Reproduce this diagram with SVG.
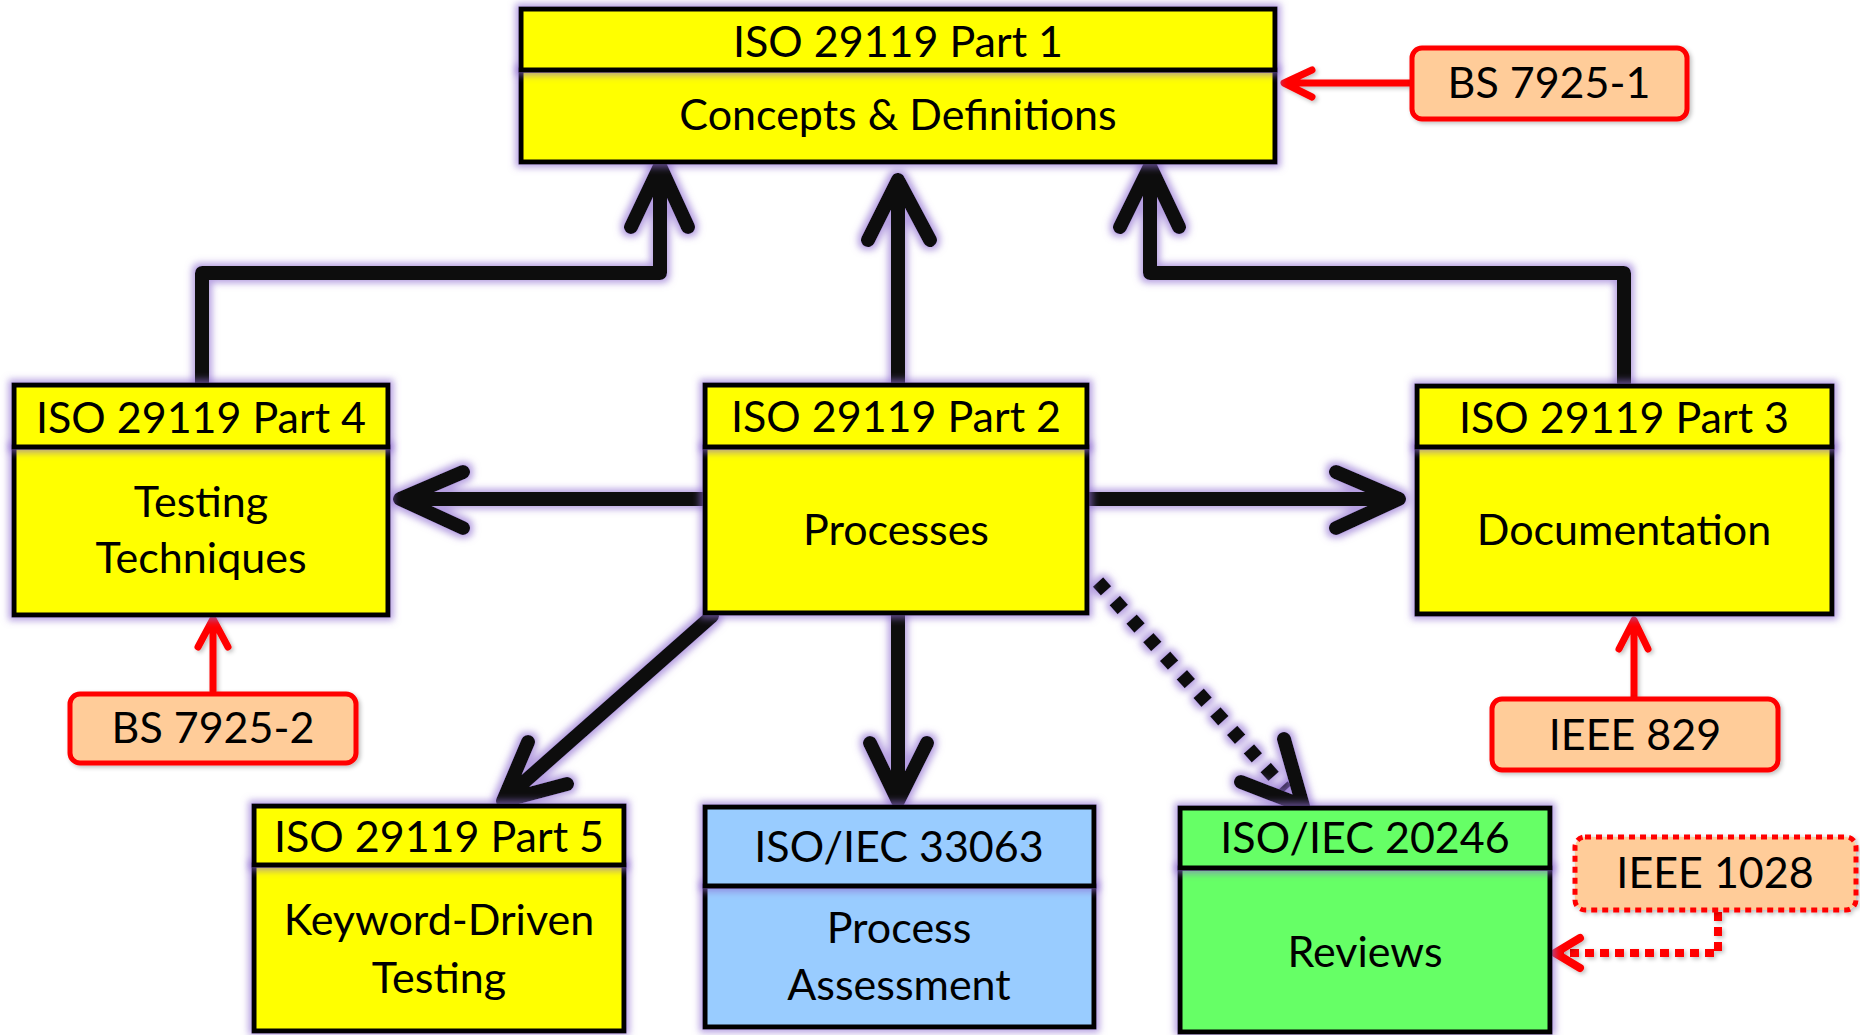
<svg xmlns="http://www.w3.org/2000/svg" width="1860" height="1035" viewBox="0 0 1860 1035">
<defs>
<filter id="glow" filterUnits="userSpaceOnUse" x="0" y="0" width="1860" height="1035">
<feMorphology in="SourceAlpha" operator="dilate" radius="3" result="d"/>
<feGaussianBlur in="d" stdDeviation="3.5" result="b"/>
<feFlood flood-color="#8E6CD0" flood-opacity="0.65"/>
<feComposite in2="b" operator="in" result="g"/>
<feMerge><feMergeNode in="g"/><feMergeNode in="SourceGraphic"/></feMerge>
</filter>
<filter id="shadow" filterUnits="userSpaceOnUse" x="0" y="0" width="1860" height="1035">
<feGaussianBlur in="SourceAlpha" stdDeviation="2" result="b"/>
<feOffset dx="2" dy="2" result="o"/>
<feFlood flood-color="#000" flood-opacity="0.25"/>
<feComposite in2="o" operator="in" result="s"/>
<feMerge><feMergeNode in="s"/><feMergeNode in="SourceGraphic"/></feMerge>
</filter>
</defs>
<style>
text{font-family:Lato,"Open Sans","Liberation Sans",sans-serif;font-size:43px;fill:#000;text-anchor:middle}
.box{stroke:#000;stroke-width:5;filter:url(#glow)}
.y{fill:#FFFF00}.b{fill:#99CCFF}.g{fill:#66FF66}
.ref{fill:#FFCC99;stroke:#FF0000;stroke-width:5;filter:url(#shadow)}
.blk{fill:none;stroke:#111;stroke-width:14;stroke-linecap:round;stroke-linejoin:round;filter:url(#glow)}
.red{fill:none;stroke:#FF0000;stroke-width:7;stroke-linecap:round;stroke-linejoin:round;filter:url(#shadow)}
</style>
<rect width="1860" height="1035" fill="#fff"/>
<g id="connectors">
<path class="blk" d="M202,383 V273 H660 V166 M631,227 L660,166 L688,227"/>
<path class="blk" d="M898,383 V180 M868,240 L898,180 L930,240"/>
<path class="blk" d="M1624,383 V273 H1150 V166 M1120,227 L1150,166 L1179,227"/>
<path class="blk" d="M703,499 H402 M463,472 L400,499 L463,528"/>
<path class="blk" d="M1089,499 H1397 M1336,472 L1399,499 L1336,528"/>
<path class="blk" d="M712,616 L506,798 M528,742 L503,801 L567,784"/>
<path class="blk" d="M898,615 V799 M870,743 L898,801 L927,743"/>
<path class="blk" d="M1098,582 L1286,790" style="stroke-linecap:butt;stroke-dasharray:12 13"/>
<path class="blk" d="M1284,739 L1303,806 L1241,782"/>
<path class="red" d="M1410,83 H1285 M1312,70 L1284,83 L1312,97"/>
<path class="red" d="M213,691 V621 M198,647 L213,619 L228,647"/>
<path class="red" d="M1634,697 V621 M1619,649 L1634,620 L1648,649"/>
<path class="red" d="M1718,912 V953 H1560" style="stroke-width:8;stroke-linecap:butt;stroke-dasharray:9 6"/>
<path class="red" d="M1580,938 L1555,953 L1580,968" style="stroke-width:8"/>
</g>
<g id="part1">
<rect class="box y" x="521" y="70" width="754" height="92"/>
<rect class="box y" x="521" y="9" width="754" height="61"/>
<text x="898" y="57">ISO 29119 Part 1</text>
<text x="898" y="130">Concepts &amp; Definitions</text>
</g>
<g id="part4">
<rect class="box y" x="14" y="447" width="374" height="168"/>
<rect class="box y" x="14" y="385" width="374" height="62"/>
<text x="201" y="433">ISO 29119 Part 4</text>
<text x="201" y="517">Testing</text>
<text x="201" y="573">Techniques</text>
</g>
<g id="part2">
<rect class="box y" x="705" y="447" width="382" height="166"/>
<rect class="box y" x="705" y="385" width="382" height="62"/>
<text x="896" y="432">ISO 29119 Part 2</text>
<text x="896" y="545">Processes</text>
</g>
<g id="part3">
<rect class="box y" x="1417" y="447" width="415" height="167"/>
<rect class="box y" x="1417" y="386" width="415" height="61"/>
<text x="1624" y="433">ISO 29119 Part 3</text>
<text x="1624" y="545">Documentation</text>
</g>
<g id="part5">
<rect class="box y" x="254" y="865" width="370" height="166"/>
<rect class="box y" x="254" y="806" width="370" height="59"/>
<text x="439" y="852">ISO 29119 Part 5</text>
<text x="439" y="935">Keyword-Driven</text>
<text x="439" y="993">Testing</text>
</g>
<g id="iec33063">
<rect class="box b" x="705" y="886" width="389" height="141"/>
<rect class="box b" x="705" y="807" width="389" height="79"/>
<text x="899" y="862">ISO/IEC 33063</text>
<text x="899" y="943">Process</text>
<text x="899" y="1000">Assessment</text>
</g>
<g id="iec20246">
<rect class="box g" x="1180" y="868" width="370" height="164"/>
<rect class="box g" x="1180" y="808" width="370" height="60"/>
<text x="1365" y="853">ISO/IEC 20246</text>
<text x="1365" y="967">Reviews</text>
</g>
<g id="bs7925-1">
<rect class="ref" x="1412" y="48" width="275" height="71" rx="10"/>
<text x="1549" y="98">BS 7925-1</text>
</g>
<g id="bs7925-2">
<rect class="ref" x="70" y="694" width="286" height="69" rx="10"/>
<text x="213" y="743">BS 7925-2</text>
</g>
<g id="ieee829">
<rect class="ref" x="1492" y="699" width="286" height="71" rx="10"/>
<text x="1635" y="750">IEEE 829</text>
</g>
<g id="ieee1028">
<rect class="ref" x="1575" y="837" width="281" height="73" rx="10" style="stroke-dasharray:6 5"/>
<text x="1715" y="888">IEEE 1028</text>
</g>
</svg>
